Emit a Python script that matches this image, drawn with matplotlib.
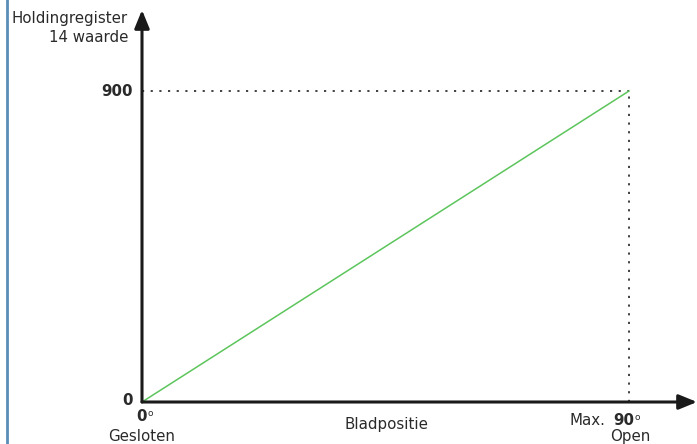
import matplotlib
matplotlib.use("Agg")
import matplotlib.pyplot as plt

# blade position (degrees) vs holding register 14 value
positie = [0, 90]
waarde = [0, 900]
x_max = 90
y_max = 900

W, H = 697, 444
fig = plt.figure(figsize=(W / 100, H / 100), dpi=100)

# axes placed so that origin sits at px (142, 402) and (90, 900) at px (629, 91)
x0, y0, x1, y1 = 142, 402, 629, 91
ax = fig.add_axes([x0 / W, 1 - y0 / H, (x1 - x0) / W, (y0 - y1) / H])
ax.set_xlim(0, x_max)
ax.set_ylim(0, y_max)
ax.axis("off")

# left blue border line
fig.add_artist(plt.Line2D([7 / W, 7 / W], [0, 1], color="#5b8db8", lw=2))

# the green line
ax.plot(positie, waarde, color="#5cc55c", lw=1.1, clip_on=False, zorder=3)

# dotted helper lines
dots = (0, (1.2, 3.6))
ax.plot([0, x_max], [y_max, y_max], color="#333333", lw=1.3, ls=dots, clip_on=False)
ax.plot([x_max, x_max], [0, y_max], color="#333333", lw=1.3, ls=dots, clip_on=False)

# axis arrows
arrow = dict(arrowstyle="-|>,head_length=1.1,head_width=0.45", color="#1a1a1a", lw=2.2,
             shrinkA=0, shrinkB=0)
ax.annotate("", xy=((697 - x0) / (x1 - x0) * x_max, 0), xytext=(0, 0),
            arrowprops=arrow, annotation_clip=False)
ax.annotate("", xy=(0, (y0 - 10) / (y0 - y1) * y_max), xytext=(0, 0),
            arrowprops=arrow, annotation_clip=False)

txt = dict(color="#2a2a2a", fontsize=10.8, family="DejaVu Sans")

def px(x, y, s, **kw):
    fig.text(x / W, 1 - y / H, s, **{**txt, **kw})

def deg(x, y, s, size=10.8):
    # bold number followed by a small raised "o" as degree sign
    t = fig.text(x / W, 1 - y / H, s, **{**txt, "fontsize": size}, fontweight="bold",
                 ha="left", va="center")
    fig.canvas.draw()
    bb = t.get_window_extent()
    fig.text(bb.x1 / W + 0.001, 1 - (y - 3) / H, "o", color="#2a2a2a", fontsize=6.5,
             ha="left", va="center")

px(128, 18, "Holdingregister", ha="right", va="center")
px(128, 38, "14 waarde", ha="right", va="center")
px(133, 91, "900", ha="right", va="center", fontweight="bold")
px(133, 400, "0", ha="right", va="center", fontweight="bold")
deg(136, 416, "0")
px(142, 436, "Gesloten", ha="center", va="center")
px(386, 424, "Bladpositie", ha="center", va="center")
px(605, 420, "Max.", ha="right", va="center")
deg(613, 420, "90")
px(630, 436, "Open", ha="center", va="center")

fig.savefig("out.png", dpi=100)
